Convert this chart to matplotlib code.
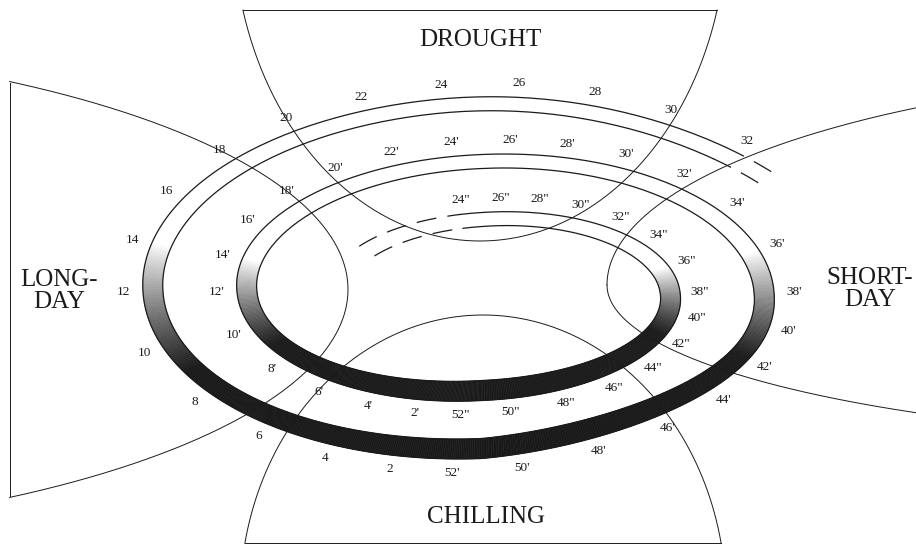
import numpy as np
import matplotlib
import matplotlib.pyplot as plt
from matplotlib.collections import PolyCollection

matplotlib.use("Agg")

# Wochennummern je Umlauf der Spirale (innen -> aussen)
WEEKS_Y1 = [24, 26, 28, 30, 32, 34, 36, 38, 40, 42, 44, 46, 48, 50, 52]
WEEKS_Y2 = [2, 4, 6, 8, 10, 12, 14, 16, 18, 20, 22, 24, 26,
            28, 30, 32, 34, 36, 38, 40, 42, 44, 46, 48, 50, 52]
WEEKS_Y3 = [2, 4, 6, 8, 10, 12, 14, 16, 18, 20, 22, 24, 26, 28, 30, 32]
MARKS = ['"', "'", ""]

REGIONS = ["DROUGHT", "LONG-\nDAY", "SHORT-\nDAY", "CHILLING"]

# Spirale (Pixelkoordinaten wie im Bild)
CX, CY = 482, 292
RX0, RX_STEP = 198, 47      # pro halbem Umlauf
RY0, RY_STEP = 94, 29
BAND_X = 20
# Verzerrung je Quadrant: oben rechts, oben links, unten links, unten rechts
WARP_UR, WARP_UL, WARP_LL, WARP_LR = 1.25, 1.12, 1.35, 1.0
DEG_WEEK = 360 / 52
U_START, U_SOLID, U_END_SOLID, U_END = 143, 98, -677, -688

FONT = "Liberation Serif"
INK = "#1c1a1b"


def week_to_u(year, week):
    return -(year * 52 + week - 38) * DEG_WEEK


def spiral(u, dx=0.0, dy=0.0):
    u = np.radians(np.asarray(u, float))
    s = -np.degrees(u) / 180
    su, cu = np.sin(u), np.cos(u)
    c = np.where(su > 0, np.where(cu > 0, WARP_UR, WARP_UL),
                 np.where(cu > 0, WARP_LR, WARP_LL))
    t = u + np.arctan2((c - 1) * su * cu, cu ** 2 + c * su ** 2)
    rx = RX0 + RX_STEP * s + dx
    ry = RY0 + RY_STEP * s + dy
    # Auslauf oben rechts sinkt ab, mittlerer Umlauf unten rechts etwas flacher
    ry = ry - 130 * np.clip(s - 3.45, 0, None) ** 2
    lr = (np.cos(t) > 0) & (np.sin(t) < 0)
    ry = ry - np.where(lr, 10 * np.clip((s - 1) / 0.8, 0, 1) * -np.sin(2 * t), 0)
    return CX + rx * np.cos(t), CY - ry * np.sin(t), np.sin(t)


def inner_edge(u):
    _, _, st = spiral(u)
    return spiral(u, -BAND_X, -(17 - 3 * st))


fig = plt.figure(figsize=(9.16, 5.46), dpi=100)
ax = fig.add_axes([0, 0, 1, 1])
ax.set_xlim(0, 916)
ax.set_ylim(546, 0)
ax.axis("off")

# Bereiche
lw_r = 0.7
th = np.radians(np.linspace(16.3, 163.7, 300))
ax.plot(480 + 247 * np.cos(th), -80 + 321 * np.sin(th), color=INK, lw=lw_r)
ax.plot([243, 717], [10, 10], color=INK, lw=lw_r)

th = np.radians(np.linspace(11.5, 168.5, 300))
ax.plot(483 + 243 * np.cos(th), 600 - 285 * np.sin(th), color=INK, lw=lw_r)
ax.plot([245, 721], [543, 543], color=INK, lw=lw_r)

th = np.radians(np.linspace(-56.8, 56.8, 300))
ax.plot(-400 + 748 * np.cos(th), 289.5 - 248.5 * np.sin(th), color=INK, lw=lw_r)
ax.plot([10, 10], [83, 496], color=INK, lw=lw_r)

th = np.radians(np.linspace(0, 56, 200))
ax.plot(1320 - 713 * np.cos(th), 285 - 215 * np.sin(th), color=INK, lw=lw_r)
ax.plot(1320 - 713 * np.cos(th), 285 + 155 * np.sin(th), color=INK, lw=lw_r)

# Band mit Verlauf
u = np.linspace(U_START, U_END, 1800)
xo, yo, st = spiral(u)
xi, yi, _ = inner_edge(u)
polys, cols = [], []
for k in range(len(u) - 1):
    dark = np.clip((0.27 - 0.5 * (st[k] + st[k + 1])) / 0.72, 0, 1) ** 0.85
    if dark < 0.01:
        continue
    polys.append([(xo[k], yo[k]), (xo[k + 1], yo[k + 1]),
                  (xi[k + 1], yi[k + 1]), (xi[k], yi[k])])
    g = 1 - 0.9 * dark
    cols.append((g, g, g))
ax.add_collection(PolyCollection(polys, facecolors=cols, edgecolors=cols,
                                 linewidths=0.4))

for edge in (spiral, inner_edge):
    for a, b, style in ((U_START, U_SOLID, "dash"), (U_SOLID, U_END_SOLID, "solid"),
                        (U_END_SOLID, U_END, "dash")):
        uu = np.linspace(a, b, 600)
        x, y, _ = edge(uu)
        if style == "dash":
            ax.plot(x, y, color=INK, lw=0.9, dashes=(16, 9))
        else:
            ax.plot(x, y, color=INK, lw=0.9)

# Wochen-Beschriftung
for year, weeks in enumerate([WEEKS_Y1, WEEKS_Y2, WEEKS_Y3]):
    for w in weeks:
        x, y, _ = spiral(week_to_u(year, w), 20, 14)
        ax.text(x, y, f"{w}{MARKS[year]}", ha="center", va="center",
                fontsize=9.5, family=FONT, color=INK)

# Bereichsnamen
ax.text(480, 40, REGIONS[0], ha="center", va="center", fontsize=18, family=FONT, color=INK)
ax.text(59, 291, REGIONS[1], ha="center", va="center", fontsize=18, family=FONT,
        color=INK, linespacing=1.0, multialignment="center")
ax.text(870, 289, REGIONS[2], ha="center", va="center", fontsize=18, family=FONT,
        color=INK, linespacing=1.0, multialignment="center")
ax.text(486, 517, REGIONS[3], ha="center", va="center", fontsize=18, family=FONT, color=INK)

fig.savefig("out.png", dpi=100)
plt.close(fig)
